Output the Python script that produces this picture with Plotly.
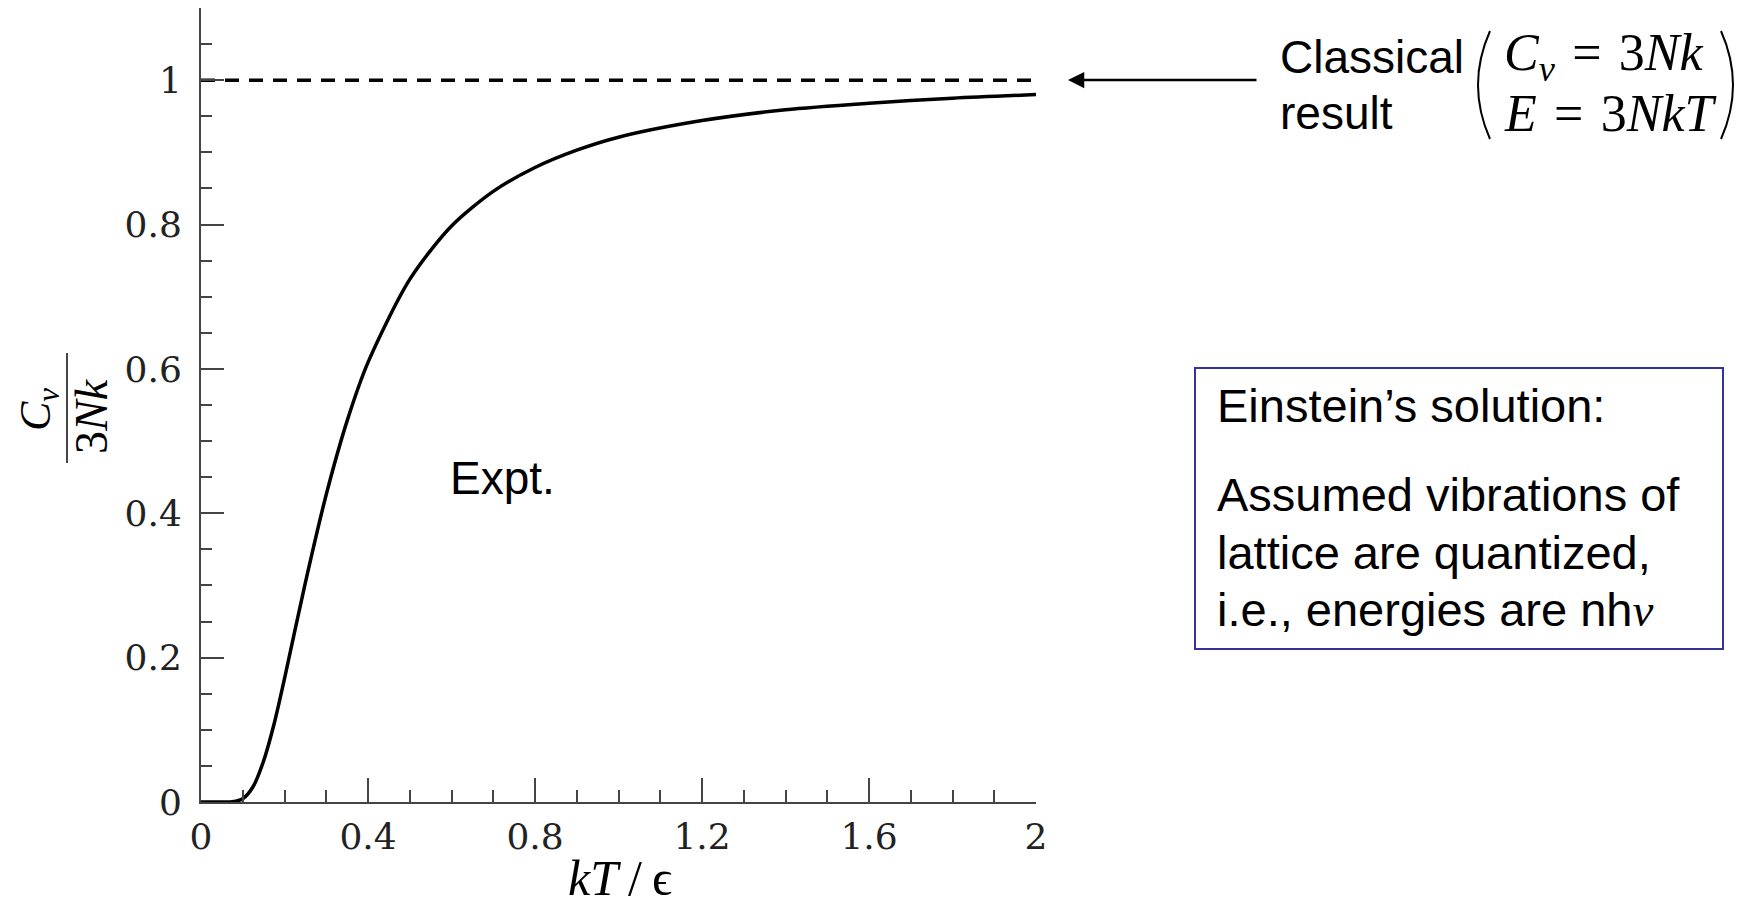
import plotly.graph_objects as go

# ---- data ----
kT_eps = [0, 0.05, 0.075, 0.1, 0.125, 0.15, 0.175, 0.2, 0.25, 0.3, 0.35, 0.4,
          0.5, 0.6, 0.7, 0.8, 0.9, 1.0, 1.2, 1.4, 1.6, 1.8, 2.0]
cv_ratio = [0, 0, 0.0003, 0.0045, 0.0215, 0.057, 0.108, 0.171, 0.304, 0.426, 0.528, 0.609,
            0.724, 0.798, 0.846, 0.879, 0.903, 0.921, 0.944, 0.959, 0.968, 0.975, 0.980]
classical_x = [0, 2]
classical_y = [1, 1]
x_ticks = [0, 0.4, 0.8, 1.2, 1.6, 2]
x_ticklabels = ["0", "0.4", "0.8", "1.2", "1.6", "2"]
y_ticks = [0, 0.2, 0.4, 0.6, 0.8, 1]
y_ticklabels = ["0", "0.2", "0.4", "0.6", "0.8", "1"]

# page has an 8px body margin; figure sized to fit inside the 1745x916 window
OFF = 8
W, H = 1745 - 2 * OFF, 916 - 2 * OFF
L, T = 201 - OFF, 0
R = W - (1036 - OFF)
B = H - (802 - OFF)
PW, PH = W - L - R, H - T - B


def px(x):
    return (x - OFF - L) / PW


def py(y):
    return (H - B - (y - OFF)) / PH


AX = "#444444"
SANS = "Liberation Sans, Arial, sans-serif"
SERIF = "Liberation Serif, Times New Roman, serif"
TICKF = "DejaVu Serif, serif"

fig = go.Figure()
fig.add_trace(go.Scatter(x=classical_x, y=classical_y, mode="lines",
                         line=dict(color="black", width=3.5, dash="14px,10px"),
                         cliponaxis=False, showlegend=False))
fig.add_trace(go.Scatter(x=kT_eps, y=cv_ratio, mode="lines",
                         line=dict(color="black", width=3.5, shape="spline", smoothing=0.8),
                         cliponaxis=False, showlegend=False))

fig.update_layout(
    width=W, height=H,
    margin=dict(l=L, r=R, t=T, b=B, autoexpand=False),
    paper_bgcolor="white", plot_bgcolor="white",
    showlegend=False,
    xaxis=dict(range=[0, 2], tickvals=x_ticks, ticktext=x_ticklabels,
               ticks="inside", ticklen=24, tickwidth=2, tickcolor=AX,
               showline=True, linecolor=AX, linewidth=2, showgrid=False, zeroline=False,
               minor=dict(dtick=0.1, ticks="inside", ticklen=12, tickwidth=2, tickcolor=AX, showgrid=False),
               tickfont=dict(family=TICKF, size=36, color="#222"), ticklabelstandoff=2),
    yaxis=dict(range=[0, 1.1], tickvals=y_ticks, ticktext=y_ticklabels,
               ticks="inside", ticklen=23, tickwidth=2, tickcolor=AX,
               showline=True, linecolor=AX, linewidth=2, showgrid=False, zeroline=False,
               minor=dict(dtick=0.05, ticks="inside", ticklen=11, tickwidth=2, tickcolor=AX, showgrid=False),
               tickfont=dict(family=TICKF, size=36, color="#222"), ticklabelstandoff=10),
)

ann = []


def text(x, y, s, size, family=SANS, xanchor="left", angle=0, **kw):
    ann.append(dict(x=px(x), y=py(y), xref="paper", yref="paper", text=s, showarrow=False,
                    xanchor=xanchor, yanchor="middle", textangle=angle,
                    font=dict(family=family, size=size, color="black"), **kw))


# axis titles
text(620, 878, "<i>kT</i>\u2009/\u2009ϵ", 50, SERIF, "center")
text(38, 410, "<i>C<sub>v</sub></i>", 44, SERIF, "center", -90)
text(91, 416, "3<i>Nk</i>", 46, SERIF, "center", -90)

# in-plot label
text(448, 478, "Expt.", 46)

# classical result
text(1278, 57, "Classical", 46)
text(1278, 113, "result", 46)
text(1502, 56, "<i>C<sub>v</sub></i>\u2004=\u20043<i>Nk</i>", 52, SERIF)
text(1502, 113, "<i>E</i>\u2004=\u20043<i>NkT</i>", 52, SERIF)

# Einstein box
text(1215, 406, "Einstein’s solution:", 47)
text(1215, 494, "Assumed vibrations of", 47)
text(1215, 552, "lattice are quantized,", 47)
text(1215, 609, "i.e., energies are nh<span style='font-family:Liberation Serif'><i>ν</i></span>", 47)

# arrow
ann.append(dict(x=px(1068), y=py(80), xref="paper", yref="paper", ax=190, ay=0,
                axref="pixel", ayref="pixel", text="", showarrow=True,
                arrowhead=2, arrowsize=1.3, arrowwidth=2.5, arrowcolor="black", standoff=0))
fig.update_layout(annotations=ann)

shapes = []
# fraction bar of y title
shapes.append(dict(type="line", xref="paper", yref="paper", x0=px(67), x1=px(67),
                   y0=py(353), y1=py(463), line=dict(color=AX, width=2)))
# parentheses
shapes.append(dict(type="path", xref="paper", yref="paper",
                   path=f"M {px(1490)},{py(31)} Q {px(1466)},{py(85)} {px(1490)},{py(139)}",
                   line=dict(color="black", width=2)))
shapes.append(dict(type="path", xref="paper", yref="paper",
                   path=f"M {px(1721)},{py(31)} Q {px(1745)},{py(85)} {px(1721)},{py(139)}",
                   line=dict(color="black", width=2)))
# box
shapes.append(dict(type="rect", xref="paper", yref="paper", x0=px(1195), x1=px(1723),
                   y0=py(649), y1=py(368), line=dict(color="#333399", width=2),
                   fillcolor="rgba(0,0,0,0)"))
fig.update_layout(shapes=shapes)

fig.write_html("out.html")
